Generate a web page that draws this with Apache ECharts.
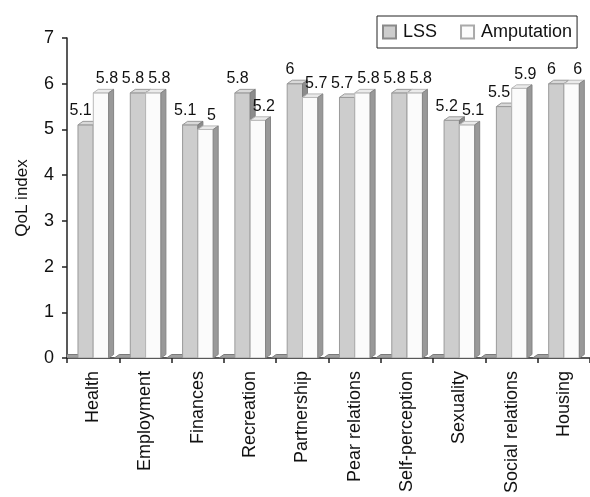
<!DOCTYPE html>
<html>
<head>
<meta charset="utf-8">
<script src="https://cdn.jsdelivr.net/npm/echarts@6/dist/echarts.min.js"></script>
<style>
html,body{margin:0;padding:0;background:#fff;}
#c{width:590px;height:497px;}
</style>
</head>
<body>
<div id="c"></div>
<script>
const categories = ['Health','Employment','Finances','Recreation','Partnership','Pear relations','Self-perception','Sexuality','Social relations','Housing'];
const lssValues = [5.1, 5.8, 5.1, 5.8, 6, 5.7, 5.8, 5.2, 5.5, 6];
const amputationValues = [5.8, 5.8, 5, 5.2, 5.7, 5.8, 5.8, 5.1, 5.9, 6];
const baseValues = [0, 0, 0, 0, 0, 0, 0, 0, 0, 0];
const yTicks = [0, 1, 2, 3, 4, 5, 6, 7];

const FONT = 'Liberation Sans, Arial, sans-serif';

function makeBox(cfg) {
  return function (params, api) {
    const idx = api.value(0);
    const v = api.value(1);
    const top = api.coord([idx, v]);
    const base = api.coord([idx, 0]);
    const bw = api.size([1, 0])[0];
    const bandStart = top[0] - bw / 2;
    const x0 = bandStart + cfg.off * bw;
    const w = 0.293 * bw;
    const dx = 0.095 * bw;
    const dy = 3.5;
    const y1 = top[1], y0 = base[1];
    const children = [];
    if (y0 - y1 > 0) {
      children.push({
        type: 'rect',
        shape: {x: x0, y: y1, width: w, height: y0 - y1},
        style: {fill: cfg.front, stroke: cfg.stroke, lineWidth: 1}
      });
    }
    children.push({
      type: 'polygon',
      shape: {points: [[x0, y1], [x0 + dx, y1 - dy], [x0 + w + dx, y1 - dy], [x0 + w, y1]]},
      style: {fill: cfg.topFill, stroke: cfg.stroke, lineWidth: 1}
    });
    children.push({
      type: 'polygon',
      shape: {points: [[x0 + w, y1], [x0 + w + dx, y1 - dy], [x0 + w + dx, y0 - dy], [x0 + w, y0]]},
      style: {fill: cfg.side, stroke: cfg.sideStroke, lineWidth: 1}
    });
    if (cfg.label) {
      children.push({
        type: 'text',
        style: {
          text: String(v),
          x: x0 + w / 2 + cfg.labelShift,
          y: y1 - 6,
          align: 'center',
          verticalAlign: 'bottom',
          font: '16px ' + FONT,
          fill: '#111'
        }
      });
    }
    return {type: 'group', children: children};
  };
}

function seriesData(vals) {
  return vals.map((v, i) => [i, v]);
}

const chart = echarts.init(document.getElementById('c'));
chart.setOption({
  animation: false,
  backgroundColor: '#fff',
  legend: {
    data: ['LSS', 'Amputation'],
    left: 377,
    top: 16,
    padding: [7, 5, 7, 5],
    itemGap: 23,
    itemWidth: 13,
    itemHeight: 13,
    icon: 'rect',
    borderColor: '#222',
    borderWidth: 1,
    borderRadius: 0,
    textStyle: {fontSize: 18, fontFamily: FONT, color: '#111', padding: [0, 0, 0, 2]}
  },
  grid: {left: 67, right: -5, top: 38, bottom: 139, containLabel: false},
  xAxis: {
    type: 'category',
    data: categories,
    boundaryGap: true,
    axisLine: {lineStyle: {color: '#222', width: 1.5}},
    axisTick: {show: true, length: 5, lineStyle: {color: '#222', width: 1.5}},
    axisLabel: {rotate: 90, fontSize: 18, fontFamily: FONT, color: '#111', margin: 13, interval: 0}
  },
  yAxis: {
    type: 'value',
    min: yTicks[0],
    max: yTicks[yTicks.length - 1],
    interval: 1,
    name: 'QoL index',
    nameLocation: 'middle',
    nameGap: 36,
    nameTextStyle: {fontSize: 17, fontFamily: FONT, color: '#111'},
    axisLine: {show: true, lineStyle: {color: '#222', width: 1.5}},
    axisTick: {show: true, length: 5, lineStyle: {color: '#222', width: 1.5}},
    axisLabel: {fontSize: 18, fontFamily: FONT, color: '#111', margin: 13},
    splitLine: {show: false}
  },
  series: [
    {
      name: 'Base',
      type: 'custom',
      clip: true,
      z: 1,
      data: seriesData(baseValues),
      renderItem: makeBox({off: -0.095, front: '#a8a8a8', topFill: '#a0a0a0', side: '#8a8a8a', stroke: '#7a7a7a', sideStroke: '#7a7a7a', label: false})
    },
    {
      name: 'LSS',
      type: 'custom',
      clip: true,
      z: 2,
      itemStyle: {color: '#cdcdcd', borderColor: '#8a8a8a', borderWidth: 1},
      data: seriesData(lssValues),
      renderItem: makeBox({off: 0.21, front: '#cdcdcd', topFill: '#d9d9d9', side: '#8c8c8c', stroke: '#9a9a9a', sideStroke: '#7e7e7e', label: true, labelShift: -5})
    },
    {
      name: 'Amputation',
      type: 'custom',
      clip: true,
      z: 3,
      itemStyle: {color: '#fbfbfb', borderColor: '#aaaaaa', borderWidth: 1},
      data: seriesData(amputationValues),
      renderItem: makeBox({off: 0.503, front: '#fbfbfb', topFill: '#ebebeb', side: '#999999', stroke: '#b8b8b8', sideStroke: '#858585', label: true, labelShift: 6})
    }
  ]
});
</script>
</body>
</html>
